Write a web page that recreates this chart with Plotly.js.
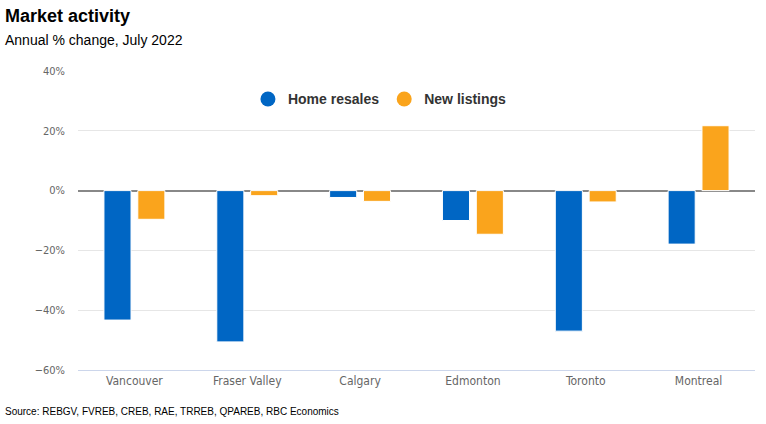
<!DOCTYPE html>
<html><head><meta charset="utf-8">
<script src="https://cdn.plot.ly/plotly-3.0.1.min.js"></script>
<style>html,body{margin:0;padding:0;background:#fff;}#chart{width:766px;height:424px;}</style>
</head><body><div id="chart"></div>
<script>
const categories = ["Vancouver", "Fraser Valley", "Calgary", "Edmonton", "Toronto", "Montreal"];
const homeResales = [-43.3, -50.6, -2.3, -10.0, -47.0, -17.9];
const newListings = [-9.6, -1.7, -3.6, -14.6, -3.8, 21.7];
const tickVals = [-60, -40, -20, 0, 20, 40];
const tickText = ["−60%", "−40%", "−20%", "0%", "20%", "40%"];

const blue = "#0066c4", orange = "#faa41c";
const traces = [
  {type: "bar", x: categories, y: homeResales, name: "Home resales", marker: {color: blue, line: {color: "#fff", width: 1}}, showlegend: false, hoverinfo: "y"},
  {type: "bar", x: categories, y: newListings, name: "New listings", marker: {color: orange, line: {color: "#fff", width: 1}}, showlegend: false, hoverinfo: "y"},
  {type: "scatter", mode: "markers", x: [null], y: [null], name: "<b>Home resales</b>", marker: {color: blue, size: 15, symbol: "circle"}},
  {type: "scatter", mode: "markers", x: [null], y: [null], name: "<b>New listings</b>", marker: {color: orange, size: 15, symbol: "circle"}}
];
const layout = {
  width: 766, height: 424,
  margin: {l: 78, r: 11, t: 71, b: 54},
  paper_bgcolor: "#fff", plot_bgcolor: "#fff",
  barmode: "group", bargap: 0.4, bargroupgap: 0.2,
  showlegend: true,
  legend: {orientation: "h", x: 0.446, xanchor: "center", y: 0.905, yanchor: "middle",
    font: {family: "Liberation Sans, Arial, sans-serif", size: 14, color: "#333"}, itemwidth: 30,
    bgcolor: "rgba(0,0,0,0)"},
  xaxis: {type: "category", showgrid: false, zeroline: false, showline: true, linecolor: "#ccd6eb", linewidth: 1,
    ticks: "", tickfont: {family: "DejaVu Sans Condensed, Liberation Sans Narrow, sans-serif", size: 12, color: "#666"}, fixedrange: true},
  yaxis: {range: [-60, 40], tickvals: tickVals, ticktext: tickText, showgrid: true, gridcolor: "#e6e6e6", gridwidth: 1,
    zeroline: true, zerolinecolor: "#888", zerolinewidth: 2, showline: false, ticks: "", ticklabelstandoff: 12,
    tickfont: {family: "DejaVu Sans Condensed, Liberation Sans Narrow, sans-serif", size: 11, color: "#666"}, fixedrange: true},
  annotations: [
    {text: "<b>Market activity</b>", xref: "paper", yref: "paper", x: 0, y: 0, xanchor: "left", yanchor: "top", showarrow: false,
     font: {family: "Liberation Sans, Arial, sans-serif", size: 18, color: "#000"}},
    {text: "Annual % change, July 2022", xref: "paper", yref: "paper", showarrow: false, xanchor: "left", yanchor: "top",
     font: {family: "Liberation Sans, Arial, sans-serif", size: 14, color: "#000"}},
    {text: "Source: REBGV, FVREB, CREB, RAE, TRREB, QPAREB, RBC Economics", xref: "paper", yref: "paper", showarrow: false, xanchor: "left", yanchor: "top",
     font: {family: "Liberation Sans, Arial, sans-serif", size: 10, color: "#000"}}
  ]
};
const plotW = 766 - 78 - 11, plotH = 424 - 71 - 54;
function px(xp){ return (xp - 78) / plotW; }
function py(yp){ return (424 - 54 - yp) / plotH; }
layout.annotations[0].x = px(3); layout.annotations[0].y = py(4);
layout.annotations[1].x = px(3); layout.annotations[1].y = py(30);
layout.annotations[2].x = px(3); layout.annotations[2].y = py(404);
Plotly.newPlot("chart", traces, layout, {displayModeBar: false, staticPlot: true});
</script></body></html>
